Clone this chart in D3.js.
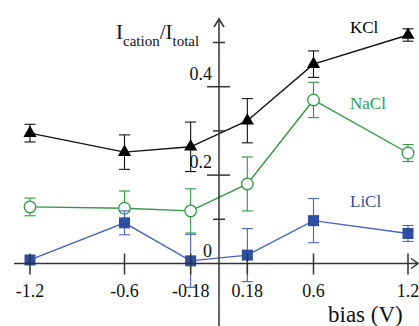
<!DOCTYPE html>
<html>
<head>
<meta charset="utf-8">
<script src="https://cdn.jsdelivr.net/npm/d3@7/dist/d3.min.js"></script>
<style>
  html, body { margin: 0; padding: 0; background: #fff; }
  svg { display: block; }
  text { font-family: "Liberation Serif", "DejaVu Serif", serif; }
</style>
</head>
<body>
<svg id="chart" width="419" height="326"></svg>
<script>
// Bias voltages (V) and cation current fractions with error bars
const bias = [-1.2, -0.6, -0.18, 0.18, 0.6, 1.2];
const kclValues  = [0.295, 0.252, 0.264, 0.323, 0.451, 0.517];
const kclErrors  = [0.020, 0.039, 0.056, 0.050, 0.030, 0.014];
const naclValues = [0.128, 0.125, 0.119, 0.180, 0.370, 0.250];
const naclErrors = [0.020, 0.039, 0.050, 0.061, 0.040, 0.019];
const liclValues = [0.008, 0.092, 0.006, 0.019, 0.097, 0.068];
const liclErrors = [0.000, 0.027, 0.060, 0.060, 0.050, 0.018];
const xTickLabels = ["-1.2", "-0.6", "-0.18", "0.18", "0.6", "1.2"];
const yMajorTicks = [0, 0.2, 0.4];
const yMinorTicks = [0.1, 0.3, 0.5];
const yTickLabels = ["0", "0.2", "0.4"];

const svg = d3.select("#chart");
const x = d3.scaleLinear().domain([-1.2, 1.2]).range([30, 408]);
const y = d3.scaleLinear().domain([0, 0.5]).range([263.5, 42.5]);

const axisColor = "#333";
const serif = "Liberation Serif";

const series = [
  { name: "KCl",  values: kclValues,  errors: kclErrors,  line: "#111", mark: "#000", shape: "triangle", labelX: 350, labelY: 33 },
  { name: "NaCl", values: naclValues, errors: naclErrors, line: "#2f9a45", mark: "#2f9a45", shape: "circle", labelX: 350, labelY: 109 },
  { name: "LiCl", values: liclValues, errors: liclErrors, line: "#4862c0", mark: "#2e4ea4", shape: "square", labelX: 350, labelY: 207 }
];

const gSeries = svg.append("g");
series.forEach(s => {
  const pts = bias.map((b, i) => ({ b, v: s.values[i], e: s.errors[i] }));
  const g = gSeries.append("g");
  // error bars
  const eb = g.selectAll("g.eb").data(pts.filter(p => p.e > 0)).enter().append("g")
    .attr("stroke", s.line).attr("stroke-width", 1.1).attr("fill", "none");
  eb.append("line").attr("x1", p => x(p.b)).attr("x2", p => x(p.b))
    .attr("y1", p => y(p.v + p.e)).attr("y2", p => y(p.v - p.e));
  eb.append("line").attr("x1", p => x(p.b) - 5.5).attr("x2", p => x(p.b) + 5.5)
    .attr("y1", p => y(p.v + p.e)).attr("y2", p => y(p.v + p.e));
  eb.append("line").attr("x1", p => x(p.b) - 5.5).attr("x2", p => x(p.b) + 5.5)
    .attr("y1", p => y(p.v - p.e)).attr("y2", p => y(p.v - p.e));
  // connecting line
  g.append("path").datum(pts)
    .attr("fill", "none").attr("stroke", s.line).attr("stroke-width", 1.4)
    .attr("d", d3.line().x(p => x(p.b)).y(p => y(p.v)));
  // markers
  if (s.shape === "triangle") {
    g.selectAll("path.m").data(pts).enter().append("path")
      .attr("d", d3.symbol().type(d3.symbolTriangle).size(75))
      .attr("transform", p => `translate(${x(p.b)},${y(p.v)})`)
      .attr("fill", s.mark);
  } else if (s.shape === "circle") {
    g.selectAll("circle").data(pts).enter().append("circle")
      .attr("cx", p => x(p.b)).attr("cy", p => y(p.v)).attr("r", 5.8)
      .attr("fill", "#fff").attr("stroke", s.mark).attr("stroke-width", 1.3);
  } else {
    g.selectAll("rect").data(pts).enter().append("rect")
      .attr("x", p => x(p.b) - 5.5).attr("y", p => y(p.v) - 5.5)
      .attr("width", 11).attr("height", 11).attr("fill", s.mark);
  }
  svg.append("text").attr("x", s.labelX).attr("y", s.labelY)
    .attr("font-family", serif)
    .attr("font-size", 17).attr("fill", s.mark).text(s.name);
});

// axes
const gAxes = svg.append("g").attr("stroke", axisColor).attr("stroke-width", 1.5).attr("fill", "none");
gAxes.append("line").attr("x1", 14).attr("x2", 417).attr("y1", y(0)).attr("y2", y(0));
gAxes.append("path").attr("d", `M${411},${y(0) - 5}L${418},${y(0)}L${411},${y(0) + 5}`);
gAxes.append("line").attr("x1", x(0)).attr("x2", x(0)).attr("y1", 326).attr("y2", 20);
gAxes.append("path").attr("d", `M${x(0) - 5},${27}L${x(0)},${19}L${x(0) + 5},${27}`);

// x ticks
gAxes.selectAll("line.xt").data(bias).enter().append("line")
  .attr("x1", d => x(d)).attr("x2", d => x(d))
  .attr("y1", y(0) - 10).attr("y2", y(0) + 11);
// y ticks
gAxes.selectAll("line.ymaj").data(yMajorTicks.filter(d => d > 0)).enter().append("line")
  .attr("x1", x(0) - 12).attr("x2", x(0) + 11)
  .attr("y1", d => y(d)).attr("y2", d => y(d));
gAxes.selectAll("line.ymin").data(yMinorTicks).enter().append("line")
  .attr("x1", x(0) - 6).attr("x2", x(0) + 6)
  .attr("y1", d => y(d)).attr("y2", d => y(d));

// tick labels
svg.selectAll("text.xl").data(bias).enter().append("text")
  .attr("x", d => x(d)).attr("y", 297).attr("text-anchor", "middle")
  .attr("font-family", serif)
  .attr("font-size", 18).attr("fill", "#111")
  .text((d, i) => xTickLabels[i]);
svg.selectAll("text.yl").data(yMajorTicks).enter().append("text")
  .attr("x", x(0) - 7).attr("y", d => y(d) - 7).attr("text-anchor", "end")
  .attr("font-family", serif)
  .attr("font-size", 18).attr("fill", "#111")
  .text((d, i) => yTickLabels[i]);

// axis titles
const title = svg.append("text").attr("x", 116).attr("y", 39)
  .attr("font-family", serif)
  .attr("font-size", 21).attr("fill", "#111");
title.append("tspan").text("I");
title.append("tspan").attr("font-size", 15).attr("dy", 7).text("cation");
title.append("tspan").attr("dy", -7).text("/I");
title.append("tspan").attr("font-size", 15).attr("dy", 7).text("total");

svg.append("text").attr("x", 328).attr("y", 322)
  .attr("font-family", serif)
  .attr("font-size", 23).attr("fill", "#111").text("bias (V)");
</script>
</body>
</html>
